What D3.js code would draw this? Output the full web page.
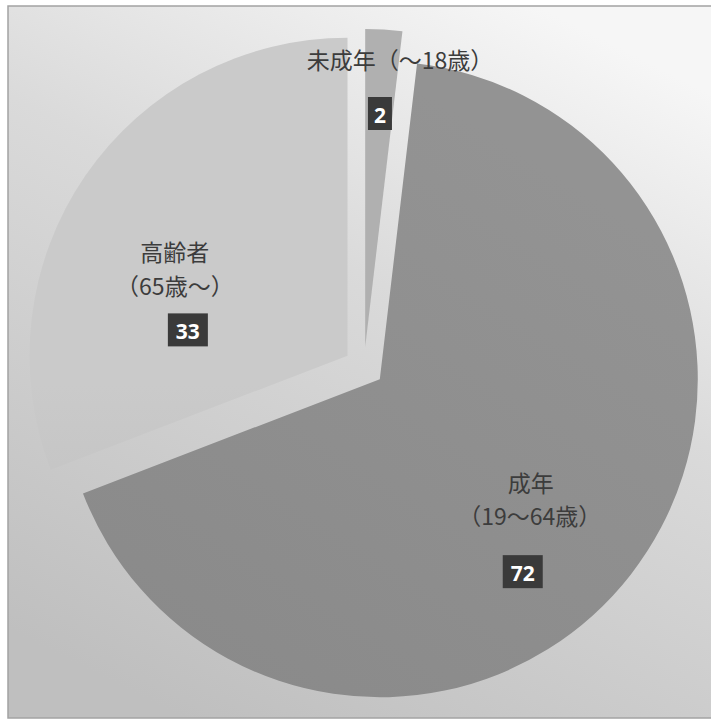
<!DOCTYPE html>
<html lang="ja">
<head>
<meta charset="utf-8">
<script src="https://cdn.jsdelivr.net/npm/d3@7"></script>
<style>
  html, body { margin: 0; padding: 0; background: #ffffff; }
  svg { display: block; }
</style>
</head>
<body>
<svg id="chart" width="711" height="722"></svg>
<script>
// Age groups, in drawing order (clockwise from 12 o'clock)
const categories = ["未成年", "成年", "高齢者"];
const ageRanges  = ["（〜18歳）", "（19〜64歳）", "（65歳〜）"];
const values     = [2, 72, 33];

// Layout
const W = 711, H = 722;
const center = [364, 367];
const radius = 318;
const explode = 20;                       // each wedge is pushed out along its bisector
const sliceFill = ["#b0b0b0", "url(#gAdult)", "url(#gSenior)"];

// Value boxes placed in polar coordinates around the centre: [degrees, px]
const valueBoxPolar = [[3.6, 254], [142.2, 259], [281.9, 180]];
// Name lines relative to the value box centre
const nameOffsets = [
  [[20, -55]],
  [[8, -90], [7, -57]],
  [[-13, -79], [-13, -45]]
];

const svg = d3.select("#chart");
const defs = svg.append("defs");

const bg = defs.append("linearGradient").attr("id", "gBg")
  .attr("x1", 0.75).attr("y1", 0).attr("x2", 0.25).attr("y2", 1);
bg.append("stop").attr("offset", 0).attr("stop-color", "#f6f6f6");
bg.append("stop").attr("offset", 0.4).attr("stop-color", "#dadada");
bg.append("stop").attr("offset", 1).attr("stop-color", "#bfbfbf");

const gs = defs.append("linearGradient").attr("id", "gSenior")
  .attr("gradientUnits", "userSpaceOnUse")
  .attr("x1", 0).attr("y1", 30).attr("x2", 0).attr("y2", 470);
gs.append("stop").attr("offset", 0).attr("stop-color", "#cacaca");
gs.append("stop").attr("offset", 1).attr("stop-color", "#b4b4b4");

const ga = defs.append("linearGradient").attr("id", "gAdult")
  .attr("gradientUnits", "userSpaceOnUse")
  .attr("x1", 600).attr("y1", 60).attr("x2", 200).attr("y2", 700);
ga.append("stop").attr("offset", 0).attr("stop-color", "#939393");
ga.append("stop").attr("offset", 1).attr("stop-color", "#888888");

// Page background and frame
svg.append("rect")
  .attr("x", 8).attr("y", 6).attr("width", W - 6).attr("height", H - 10)
  .attr("fill", "url(#gBg)")
  .attr("stroke", "#a3a3a3").attr("stroke-width", 1.5);

const pie = d3.pie().sort(null).value(d => d);
const arcs = pie(values);
const arc = d3.arc().innerRadius(0).outerRadius(radius);

const g = svg.append("g").attr("transform", `translate(${center[0]},${center[1]})`);

g.selectAll("path.slice")
  .data(arcs)
  .join("path")
  .attr("class", "slice")
  .attr("transform", d => {
    const [dx, dy] = d3.pointRadial((d.startAngle + d.endAngle) / 2, explode);
    return `translate(${dx},${dy})`;
  })
  .attr("d", arc)
  .attr("fill", (d, i) => sliceFill[i]);

// Labels
const textColor = "#3c3c3c";
const labels = g.selectAll("g.label")
  .data(arcs)
  .join("g")
  .attr("class", "label")
  .attr("transform", (d, i) => {
    const [a, r] = valueBoxPolar[i];
    const [x, y] = d3.pointRadial(a * Math.PI / 180, r);
    return `translate(${x},${y})`;
  });

labels.each(function (d, i) {
  const sel = d3.select(this);
  const lines = i === 0 ? [categories[0] + ageRanges[0]] : [categories[i], ageRanges[i]];
  lines.forEach((t, k) => {
    const [dx, dy] = nameOffsets[i][k];
    sel.append("text")
      .attr("x", dx).attr("y", dy)
      .attr("text-anchor", "middle")
      .attr("dominant-baseline", "central")
      .attr("font-family", "'Noto Sans CJK JP', 'Noto Sans', sans-serif")
      .attr("font-size", 23)
      .attr("fill", textColor)
      .text(t);
  });

  const label = String(d.data);
  const bw = label.length === 1 ? 24 : 40, bh = 33;
  sel.append("rect")
    .attr("x", -bw / 2).attr("y", -bh / 2)
    .attr("width", bw).attr("height", bh)
    .attr("fill", "#3a3a3a");
  sel.append("text")
    .attr("text-anchor", "middle")
    .attr("dominant-baseline", "central")
    .attr("y", 1)
    .attr("font-family", "'Noto Sans', 'Open Sans', sans-serif")
    .attr("font-weight", "bold")
    .attr("font-size", 21)
    .attr("fill", "#ffffff")
    .text(label);
});
</script>
</body>
</html>
